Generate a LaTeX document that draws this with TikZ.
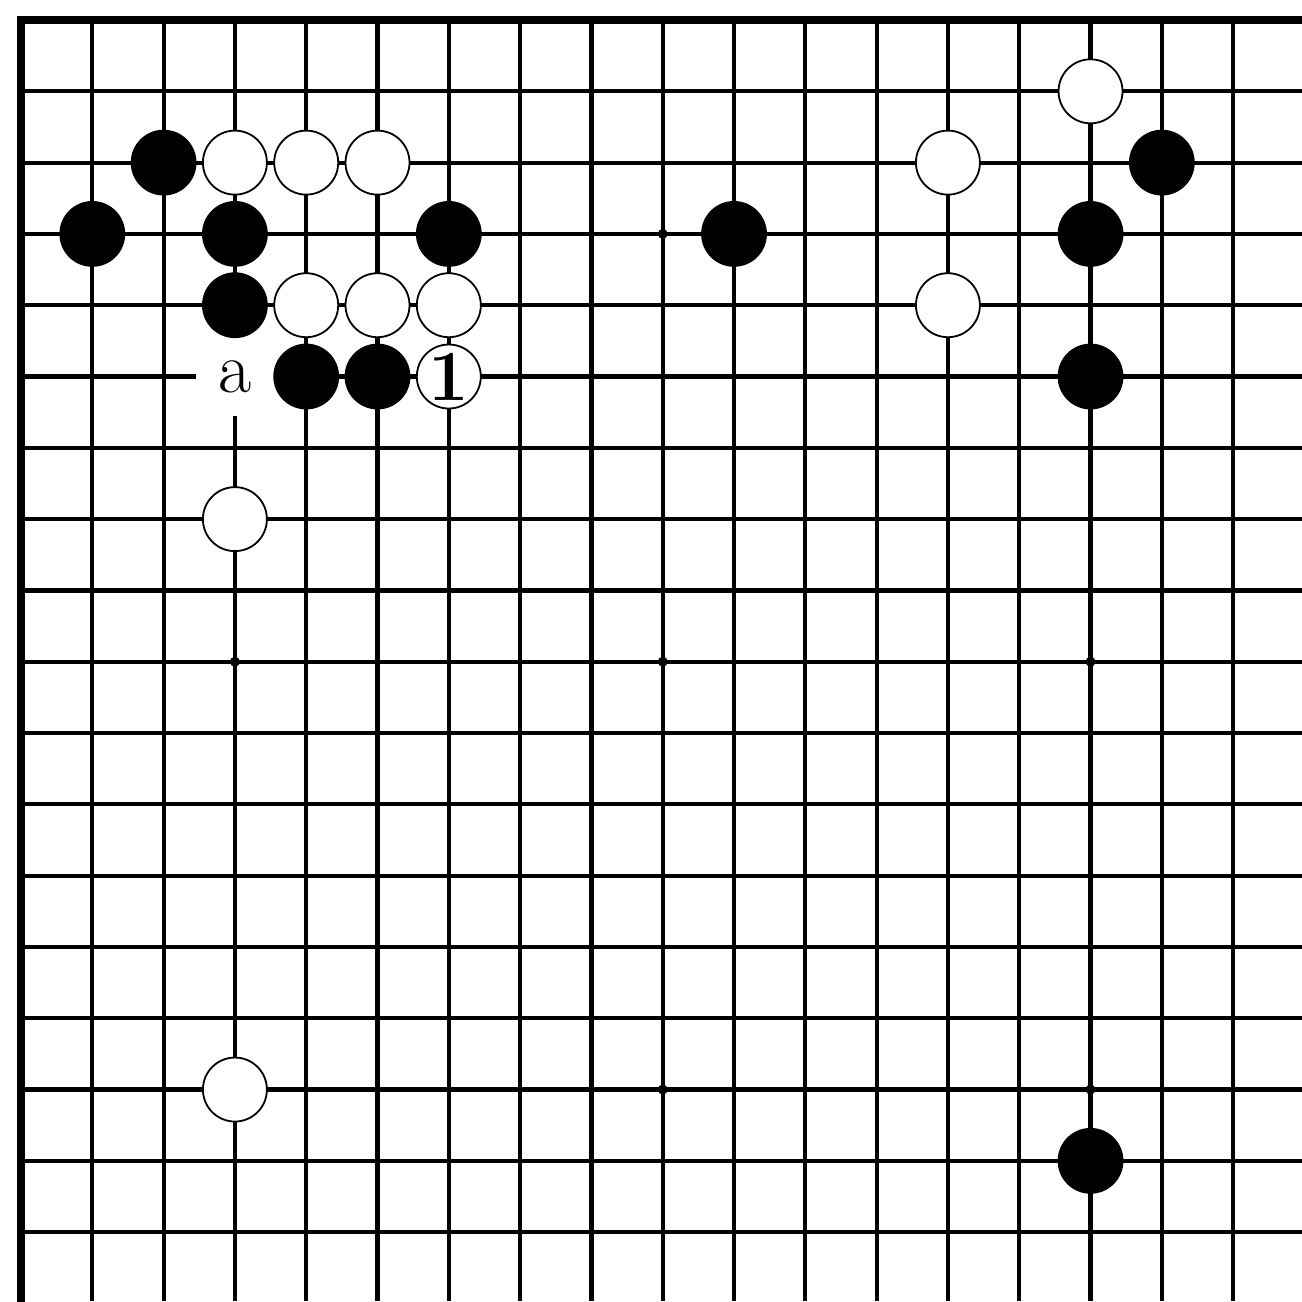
\documentclass[tikz,border=0pt]{standalone}
\begin{document}
\begin{tikzpicture}[x=35.65pt,y=-35.65pt,
  gridline/.style={line width=2.1pt},
  edgeline/.style={line width=3.6pt,line cap=rect},
  bstone/.style={circle,draw=black,fill=black,line width=0.9pt,minimum size=32pt,inner sep=0pt},
  wstone/.style={circle,draw=black,fill=white,line width=0.9pt,minimum size=32pt,inner sep=0pt},
  starpt/.style={circle,fill=black,minimum size=5pt,inner sep=0pt},
  lbl/.style={fill=white,inner sep=0pt,minimum width=39pt,minimum height=39pt,font=\fontsize{36}{40}\selectfont}]
\useasboundingbox (-0.2945,-0.2805) rectangle (17.966,17.966);
% grid
\foreach \i in {1,...,17} {
  \draw[gridline] (\i,0) -- (\i,17.966);
  \draw[gridline] (0,\i) -- (17.966,\i);
}
\draw[edgeline] (17.966,0) -- (0,0) -- (0,17.966);
% star points
\node[starpt] (h1) at (9,3) {};
\node[starpt] (h2) at (3,9) {};
\node[starpt] (h3) at (9,9) {};
\node[starpt] (h4) at (15,9) {};
\node[starpt] (h5) at (9,15) {};
\node[starpt] (h6) at (15,15) {};
% label (drawn before stones so stones sit on top)
\node[lbl] (la) at (3,5) {a};
% black stones
\node[bstone] (b1) at (2,2) {};
\node[bstone] (b2) at (1,3) {};
\node[bstone] (b3) at (3,3) {};
\node[bstone] (b4) at (6,3) {};
\node[bstone] (b5) at (3,4) {};
\node[bstone] (b6) at (4,5) {};
\node[bstone] (b7) at (5,5) {};
\node[bstone] (b8) at (10,3) {};
\node[bstone] (b9) at (16,2) {};
\node[bstone] (b10) at (15,3) {};
\node[bstone] (b11) at (15,5) {};
\node[bstone] (b12) at (15,16) {};
% white stones
\node[wstone] (w1) at (3,2) {};
\node[wstone] (w2) at (4,2) {};
\node[wstone] (w3) at (5,2) {};
\node[wstone] (w4) at (4,4) {};
\node[wstone] (w5) at (5,4) {};
\node[wstone] (w6) at (6,4) {};
\node[wstone,font=\fontsize{36}{40}\selectfont\bfseries] (w7) at (6,5) {1};
\node[wstone] (w8) at (3,7) {};
\node[wstone] (w9) at (3,15) {};
\node[wstone] (w10) at (15,1) {};
\node[wstone] (w11) at (13,2) {};
\node[wstone] (w12) at (13,4) {};
\end{tikzpicture}
\end{document}
